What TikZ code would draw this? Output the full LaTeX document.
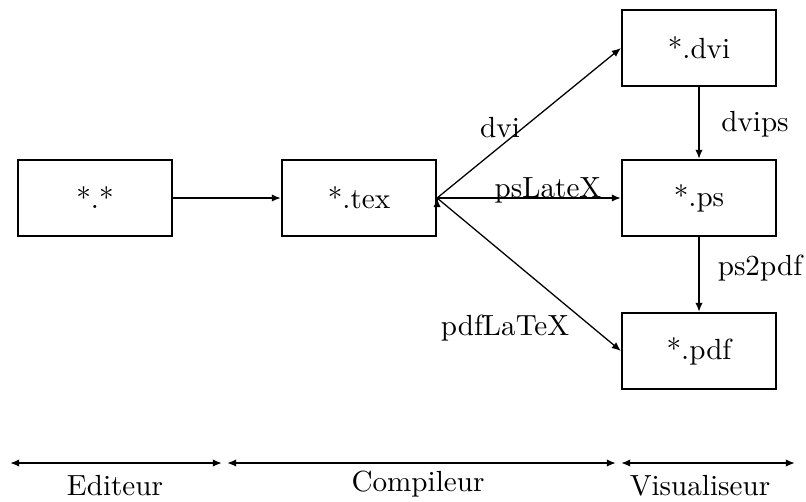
\documentclass[tikz,border=0pt]{standalone}
\usetikzlibrary{arrows.meta}
\begin{document}
\begin{tikzpicture}[x=0.35pt,y=-0.35pt,
  filebox/.style={draw,line width=0.75pt,minimum width=154*0.35pt,minimum height=76*0.35pt,inner sep=0pt,font=\fontsize{10.2}{12}\selectfont},
  conn/.style={line width=0.6pt,-{Latex[length=3.2pt,width=2.6pt]}},
  span/.style={line width=0.7pt,{Latex[length=3.2pt,width=2.6pt]}-{Latex[length=3.2pt,width=2.6pt]}},
  lab/.style={font=\fontsize{10.2}{12}\selectfont,inner sep=0pt}]
\useasboundingbox (0,0) rectangle (806,501);
\node[filebox] (any) at (95,198) {*.*};
\node[filebox] (tex) at (359,198) {*.tex};
\node[filebox] (dvi) at (699,48) {*.dvi};
\node[filebox] (ps) at (699,198) {*.ps};
\node[filebox] (pdf) at (699,351) {*.pdf};
\draw[conn] (any) -- (tex);
\draw[conn] ([yshift=-0.3pt]tex.east) -- (tex.east);
\draw[conn,line width=0.45pt] (tex.east) -- (dvi.west);
\draw[conn] (tex.east) -- (ps.west);
\draw[conn,line width=0.45pt] (tex.east) -- (pdf.west);
\draw[conn] (dvi) -- (ps);
\draw[conn] (ps) -- (pdf);
\node[lab] (ldvi) at (500,128) {dvi};
\node[lab] (lps) at (548,190) {psLateX};
\node[lab] (lpdf) at (505,328) {pdfLaTeX};
\node[lab] (ldvips) at (755,124) {dvips};
\node[lab] (lps2pdf) at (760,268) {ps2pdf};
\coordinate (a0) at (10,463);
\coordinate (a1) at (222,463);
\coordinate (b0) at (227,463);
\coordinate (b1) at (616,463);
\coordinate (c0) at (621,463);
\coordinate (c1) at (795,463);
\draw[span] (a0) -- (a1);
\draw[span] (b0) -- (b1);
\draw[span] (c0) -- (c1);
\node[lab] (ed) at (115,486) {Editeur};
\node[lab] (co) at (418,484) {Compileur};
\node[lab] (vi) at (700,486) {Visualiseur};
\end{tikzpicture}
\end{document}
